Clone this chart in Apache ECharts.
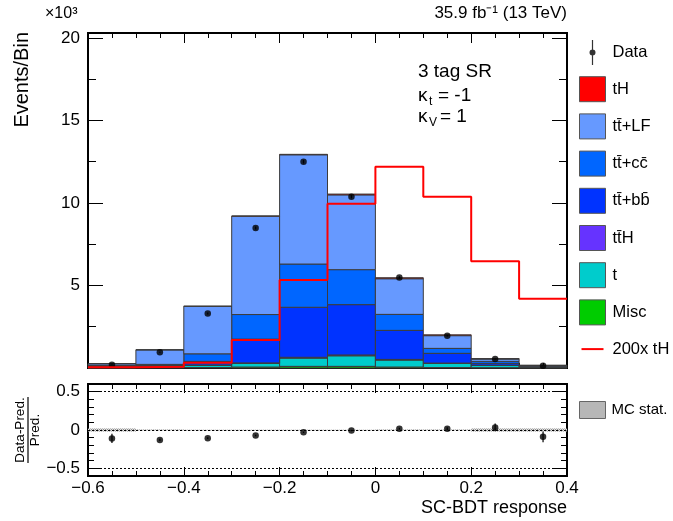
<!DOCTYPE html>
<html><head><meta charset="utf-8">
<script src="https://cdn.jsdelivr.net/npm/echarts@6/dist/echarts.min.js"></script>
<style>html,body{margin:0;padding:0;background:#fff}#c{width:673px;height:521px}</style>
</head><body><div id="c"></div>
<script>
// ---- data (main panel values in units of 10^3 events) ----
const binEdges = [-0.6,-0.5,-0.4,-0.3,-0.2,-0.1,0,0.1,0.2,0.3,0.4];
const misc      = [0.01,0.02,0.03,0.06,0.10,0.10,0.06,0.03,0.02,0.01];
const singleTop = [0.04,0.08,0.13,0.22,0.50,0.64,0.42,0.25,0.14,0.05];
const ttH       = [0.01,0.01,0.02,0.03,0.05,0.05,0.04,0.02,0.01,0.005];
const ttbb      = [0.04,0.04,0.22,1.44,3.03,3.05,1.76,0.59,0.11,0.025];
const ttcc      = [0.06,0.07,0.46,1.49,2.62,2.12,0.97,0.30,0.12,0.02];
const ttLF      = [0.10,0.88,2.88,5.96,6.62,4.53,2.16,0.77,0.14,0.04];
const tH        = [0.0002,0.0004,0.0016,0.008,0.027,0.05,0.061,0.052,0.032,0.021];
const tH200     = [0.04,0.07,0.32,1.69,5.33,9.95,12.19,10.37,6.47,4.2];
const dataVals  = [0.2,0.95,3.3,8.48,12.5,10.38,5.48,1.95,0.54,0.14];
const dataErr   = [0.015,0.03,0.06,0.09,0.11,0.1,0.075,0.045,0.023,0.012];
// ratio panel
const ratioVals = [-0.11,-0.13,-0.106,-0.072,-0.03,-0.008,0.017,0.017,0.034,-0.089];
const ratioErr  = [0.06,0.015,0.01,0.01,0.008,0.008,0.012,0.02,0.05,0.07];
const mcStat    = [0.02,0.006,0.004,0.004,0.004,0.004,0.005,0.008,0.02,0.02];
// tick labels
const xTickLabels = [-0.6,-0.4,-0.2,0,0.2,0.4];
const yMainLabels = [5,10,15,20];
const yRatioLabels = [-0.5,0,0.5];

const FONT = 'Liberation Sans, Arial, Helvetica, sans-serif';

// fine grey dot pattern for the MC stat band
const pc = document.createElement('canvas'); pc.width = 2; pc.height = 2;
const pctx = pc.getContext('2d');
pctx.fillStyle = '#e2e2e2'; pctx.fillRect(0,0,2,2);
pctx.fillStyle = '#8c8c8c'; pctx.fillRect(0,0,1,1); pctx.fillRect(1,1,1,1);
const hatch = {image: pc, repeat: 'repeat'};

const layers = [
  {name:'Misc', vals:misc, color:'#00cc00'},
  {name:'t', vals:singleTop, color:'#00cccc'},
  {name:'tt\u0304H', vals:ttH, color:'#6633ff'},
  {name:'tt\u0304+bb\u0304', vals:ttbb, color:'#0033ff'},
  {name:'tt\u0304+cc\u0304', vals:ttcc, color:'#0066ff'},
  {name:'tt\u0304+LF', vals:ttLF, color:'#6699ff'},
  {name:'tH', vals:tH, color:'#ff0000'}
];
const base = binEdges.slice(0,-1).map(()=>0);
const stackSeries = layers.map(L => {
  const d = L.vals.map((v,i) => { const b = base[i]; base[i] += v; return [binEdges[i], binEdges[i+1], b, b+v]; });
  return {
    type:'custom', name:L.name, xAxisIndex:0, yAxisIndex:0,
    itemStyle:{color:L.color}, encode:{x:[0,1], y:[2,3]},
    renderItem:(params, api) => {
      const p0 = api.coord([api.value(0), api.value(3)]);
      const p1 = api.coord([api.value(1), api.value(2)]);
      return {type:'rect', shape:{x:p0[0], y:p0[1], width:p1[0]-p0[0], height:p1[1]-p0[1]},
        style:{fill:api.visual('color'), stroke:'#3c3c3c', lineWidth:1}};
    },
    data:d
  };
});
const centers = binEdges.slice(0,-1).map((e,i)=> (e+binEdges[i+1])/2);

function errRender(params, api){
  const x = api.value(0), y = api.value(1), e = api.value(2);
  const a = api.coord([x, y-e]), b = api.coord([x, y+e]);
  return {type:'line', shape:{x1:a[0], y1:a[1], x2:b[0], y2:b[1]}, style:{stroke:'#000', lineWidth:1.2}};
}

const axLine = {show:true, onZero:false, lineStyle:{color:'#000', width:2}};
function xAx(grid, pos, labels, majorLen, minorLen){
  return {type:'value', gridIndex:grid, position:pos, min:-0.6, max:0.4, interval:0.2,
    axisLine:axLine, splitLine:{show:false},
    axisTick:{inside:true, length:majorLen, lineStyle:{color:'#000', width:1}},
    minorTick:{show:true, splitNumber:4, length:minorLen, lineStyle:{color:'#000', width:1}},
    axisLabel:{show:labels, margin:4, color:'#000', fontSize:17, fontFamily:FONT,
      customValues: xTickLabels,
      formatter:v=> (Math.abs(v)<1e-9 ? '0' : String(+v.toFixed(1)).replace('-','\u2212'))}};
}
function yAx(grid, pos, min, max, interval, len, labelVals, tickVals){
  const o = {type:'value', gridIndex:grid, position:pos, min:min, max:max, interval:interval,
    axisLine:axLine, splitLine:{show:false},
    axisTick:{inside:true, length:len, lineStyle:{color:'#000', width:1}},
    axisLabel:{show:!!labelVals, margin:8, color:'#000', fontSize:17, fontFamily:FONT,
      formatter:v=> (Math.abs(v)<1e-9 ? '0' : String(+(+v).toFixed(2)).replace('-','\u2212'))}};
  if (labelVals) o.axisLabel.customValues = labelVals;
  if (tickVals) o.axisTick.customValues = tickVals;
  return o;
}

const option = {
  animation:false,
  backgroundColor:'#fff',
  grid:[
    {left:88, right:106, top:33, height:335},
    {left:88, right:106, top:384, height:92}
  ],
  xAxis:[
    xAx(0,'bottom',false,10,5),
    xAx(0,'top',false,10,5),
    xAx(1,'bottom',true,9,5),
    xAx(1,'top',false,9,5)
  ],
  yAxis:[
    yAx(0,'left',0,20.3,5,15,yMainLabels,yMainLabels),
    yAx(0,'left',0,20.3,2.5,8,null,null),
    yAx(0,'right',0,20.3,5,15,null,yMainLabels),
    yAx(0,'right',0,20.3,2.5,8,null,null),
    yAx(1,'left',-0.6,0.6,0.1,6,null,null),
    yAx(1,'left',-0.6,0.6,0.1,13,yRatioLabels,yRatioLabels),
    yAx(1,'right',-0.6,0.6,0.1,6,null,null),
    yAx(1,'right',-0.6,0.6,0.1,13,null,yRatioLabels)
  ],
  legend:[
    {orient:'vertical', left:579, top:40, padding:0, itemWidth:26, itemHeight:25, itemGap:11.2,
     textStyle:{fontSize:16.5, fontFamily:FONT, color:'#000', padding:[0,0,0,2]},
     itemStyle:{borderColor:'#555', borderWidth:1},
     selectedMode:false,
     data:[
       {name:'Data', icon:'path://M0,0 M26,25 M12.4,0 L13.6,0 L13.6,25 L12.4,25 Z M16,12.5 A3,3 0 1 1 10,12.5 A3,3 0 1 1 16,12.5 Z', itemStyle:{borderWidth:0, color:'#000'}},
       {name:'tH', icon:'rect'},
       {name:'tt\u0304+LF', icon:'rect'},
       {name:'tt\u0304+cc\u0304', icon:'rect'},
       {name:'tt\u0304+bb\u0304', icon:'rect'},
       {name:'tt\u0304H', icon:'rect'},
       {name:'t', icon:'rect'},
       {name:'Misc', icon:'rect'},
       {name:'200x tH', icon:'path://M0,0 M0,11.5 L22,11.5 L22,13.5 L0,13.5 Z M0,25', itemStyle:{borderWidth:0, color:'#ff0000'}}
     ]},
    {orient:'vertical', left:579, top:401, padding:0, itemWidth:26, itemHeight:17,
     textStyle:{fontSize:15, fontFamily:FONT, color:'#000', padding:[0,0,0,1]},
     itemStyle:{borderColor:'#666', borderWidth:1},
     selectedMode:false,
     data:[{name:'MC stat.', icon:'rect'}]}
  ],
  series:[
    ...stackSeries,
    {type:'line', name:'200x tH', xAxisIndex:0, yAxisIndex:0, step:'end', symbol:'none',
     lineStyle:{color:'#ff0000', width:2}, itemStyle:{color:'#ff0000'},
     data: binEdges.map((e,i)=>[e, tH200[Math.min(i, tH200.length-1)]])},
    {type:'custom', name:'DataErr', xAxisIndex:0, yAxisIndex:0, renderItem:errRender,
     encode:{x:0,y:1}, data: centers.map((c,i)=>[c, dataVals[i], dataErr[i]])},
    {type:'scatter', name:'Data', xAxisIndex:0, yAxisIndex:0, symbol:'circle', symbolSize:6.5,
     itemStyle:{color:'#000'}, data: centers.map((c,i)=>[c, dataVals[i]])},
    // ratio panel
    {type:'custom', name:'MC stat.', xAxisIndex:2, yAxisIndex:4, itemStyle:{color:hatch},
     encode:{x:[0,1], y:[2,3]},
     renderItem:(params, api) => {
       const p0 = api.coord([api.value(0), api.value(3)]);
       const p1 = api.coord([api.value(1), api.value(2)]);
       return {type:'rect', shape:{x:p0[0], y:p0[1], width:p1[0]-p0[0], height:Math.max(1, p1[1]-p0[1])},
         style:{fill:hatch}};
     },
     data: binEdges.slice(0,-1).map((e,i)=>[e, binEdges[i+1], -mcStat[i], mcStat[i]])},
    {type:'custom', name:'RatioErr', xAxisIndex:2, yAxisIndex:4, renderItem:errRender,
     encode:{x:0,y:1}, data: centers.map((c,i)=>[c, ratioVals[i], ratioErr[i]]), z:5},
    {type:'scatter', name:'Ratio', xAxisIndex:2, yAxisIndex:4, symbol:'circle', symbolSize:6.5,
     itemStyle:{color:'#000'}, z:6,
     data: centers.map((c,i)=>[c, ratioVals[i]]),
     markLine:{symbol:'none', silent:true, label:{show:false},
       lineStyle:{type:[2,2], color:'#000', width:1},
       data:[{yAxis:0.5},{yAxis:0},{yAxis:-0.5}]}}
  ],
  graphic:[
    {type:'text', right:106, top:5, style:{text:'35.9 fb\u207B\u00B9 (13 TeV)', font:'17px '+FONT, fill:'#000'}},
    {type:'text', left:45, top:6, style:{text:'\u00D710\u00B3', font:'16px '+FONT, fill:'#000'}},
    {type:'text', x:22, y:32, rotation:Math.PI/2, style:{text:'Events/Bin', font:'20px '+FONT, fill:'#000', align:'right', verticalAlign:'middle'}},
    {type:'text', left:418, top:62, style:{text:'3 tag SR', font:'19px '+FONT, fill:'#000'}},
    {type:'text', left:418, top:86, style:{text:'\u03BA', font:'19px '+FONT, fill:'#000'}},
    {type:'text', left:429, top:96, style:{text:'t', font:'12px '+FONT, fill:'#000'}},
    {type:'text', left:438, top:86, style:{text:'= -1', font:'19px '+FONT, fill:'#000'}},
    {type:'text', left:418, top:107, style:{text:'\u03BA', font:'19px '+FONT, fill:'#000'}},
    {type:'text', left:429, top:117, style:{text:'V', font:'12px '+FONT, fill:'#000'}},
    {type:'text', left:440, top:107, style:{text:'= 1', font:'19px '+FONT, fill:'#000'}},
    {type:'text', right:106, top:499, style:{text:'SC-BDT response', font:'18px '+FONT, fill:'#000'}},
    {type:'group', x:28, y:430, rotation:Math.PI/2, children:[
      {type:'text', x:0, y:-7.5, style:{text:'Data-Pred.', font:'13.5px '+FONT, fill:'#000', align:'center', verticalAlign:'middle'}},
      {type:'line', shape:{x1:-33, y1:0, x2:33, y2:0}, style:{stroke:'#000', lineWidth:1.2}},
      {type:'text', x:0, y:7.5, style:{text:'Pred.', font:'13.5px '+FONT, fill:'#000', align:'center', verticalAlign:'middle'}}
    ]}
  ]
};
const chart = echarts.init(document.getElementById('c'), null, {renderer:'canvas'});
chart.setOption(option);
</script></body></html>
